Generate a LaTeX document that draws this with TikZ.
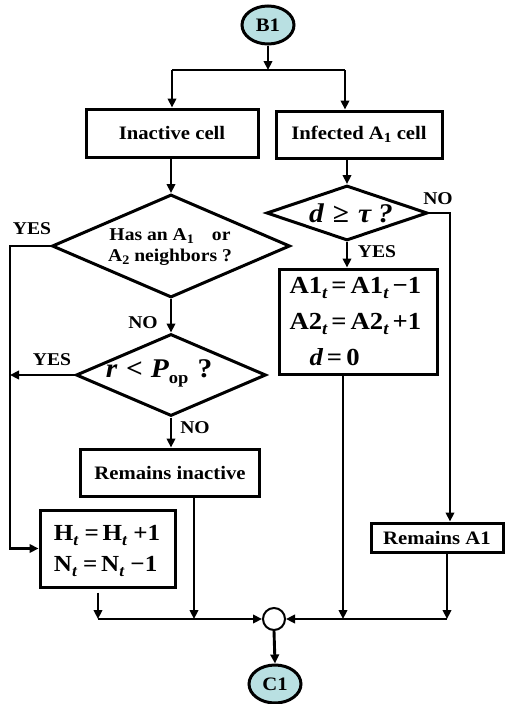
\documentclass[tikz,border=0pt]{standalone}
\usepackage{fontspec}
\setmainfont{Liberation Serif}[FakeStretch=1.09]
\usetikzlibrary{shapes.geometric,arrows.meta}
\definecolor{termfill}{RGB}{185,224,226}
\newcommand\lowsub[3]{\raisebox{-#1}{\fontsize{#2}{#2}\selectfont #3}}
\begin{document}
\begin{tikzpicture}[x=1pt,y=-1pt,
  every node/.style={font=\fontsize{19}{21}\selectfont\bfseries},
  ln/.style={line width=2.9pt},
  arr/.style={ln,-{Triangle[length=9pt,width=8.5pt]}},
  box/.style={draw,line width=3pt,rectangle,inner sep=0pt},
  dia/.style={draw,line width=3pt,diamond,inner sep=0pt},
  lbl/.style={font=\fontsize{18}{20}\selectfont\bfseries},
  term/.style={draw,line width=3pt,ellipse,fill=termfill,inner sep=0pt,minimum width=52pt,minimum height=38pt}]
\useasboundingbox (0,0) rectangle (509,704);
% nodes
\node[term] (B1) at (268,25) {B1};
\node[box,minimum width=172pt,minimum height=48pt] (inact) at (172,133) {Inactive cell};
\node[box,minimum width=166pt,minimum height=47pt] (infa) at (359,134.5) {Infected A\lowsub{3pt}{14}{1} cell};
\node[dia,minimum width=238pt,minimum height=103pt] (d1) at (171,246) {};
\node[align=center,font=\fontsize{18}{21}\selectfont\bfseries] (d1t) at (170,247) {Has an A\lowsub{3pt}{13}{1}\quad or\\A\lowsub{3pt}{13}{2} neighbors ?};
\node[dia,minimum width=161pt,minimum height=55pt] (d2) at (347,213) {};
\node[font=\fontsize{27}{30}\selectfont\bfseries] (d2t) at (351,213) {\itshape d\hspace{9pt}\upshape ≥\hspace{9pt}\itshape τ\hspace{7pt}?};
\node[box,minimum width=158pt,minimum height=105pt] (eq) at (358,321.5) {};
\node[align=left,font=\fontsize{24.5}{36}\selectfont\bfseries,anchor=west] (eqt) at (286,322) {A1\lowsub{5pt}{17}{\itshape t}\,=\,A1\lowsub{5pt}{17}{\itshape t}\,−1\\A2\lowsub{5pt}{17}{\itshape t}\,=\,A2\lowsub{5pt}{17}{\itshape t}\,+1\\\hspace*{20pt}\itshape d\upshape\,=\,0};
\node[dia,minimum width=190pt,minimum height=82pt] (d3) at (171,375) {};
\node[font=\fontsize{27}{30}\selectfont\bfseries] (d3t) at (159,373) {\itshape r\hspace{9pt}\upshape<\hspace{8pt}\itshape P\upshape\lowsub{6pt}{17}{op}\hspace{9pt}?};
\node[box,minimum width=179pt,minimum height=47pt] (rin) at (170,472.5) {Remains inactive};
\node[box,minimum width=135pt,minimum height=77pt] (hb) at (107.5,548.5) {};
\node[align=left,font=\fontsize{23}{31}\selectfont\bfseries] (hbt) at (107,551) {H\lowsub{5pt}{16}{\itshape t}\ =\,H\lowsub{5pt}{16}{\itshape t}\ +1\\N\lowsub{5pt}{16}{\itshape t}\ =\,N\lowsub{5pt}{16}{\itshape t}\ −1};
\node[box,minimum width=132pt,minimum height=29pt] (ra1) at (437,537.5) {Remains A1};
\node[circle,draw,line width=2pt,minimum size=22pt,inner sep=0pt] (mc) at (274,619) {};
\node[term] (C1) at (275,684) {C1};
% labels
\node[lbl] (l1) at (32,229) {YES};
\node[lbl] (l2) at (143,323) {NO};
\node[lbl] (l3) at (52,360) {YES};
\node[lbl] (l4) at (195,428) {NO};
\node[lbl] (l5) at (438,199) {NO};
\node[lbl] (l6) at (377,252) {YES};
% coordinates
\coordinate (j0) at (268,70);
\coordinate (jl) at (172,70);
\coordinate (jr) at (345,70);
\coordinate (yl1) at (10,246);
\coordinate (yl2) at (10,548.5);
\coordinate (nr) at (450,213);
\coordinate (b1) at (98,619);
\coordinate (b2) at (194,619);
\coordinate (b3) at (343,619);
\coordinate (b4) at (447,619);
% connectors
\draw[arr] (B1.south) -- (j0);
\draw[ln] (jl) -- (jr);
\draw[arr] (jl) -- (jl |- inact.north);
\draw[arr] (jr) -- (jr |- infa.north);
\draw[arr] (inact.south -| d1.north) -- (d1.north);
\draw[arr] (d2.north |- infa.south) -- (d2.north);
\draw[arr] (d1.west) -- (yl1) -- (yl2) -- (hb.west);
\draw[arr] (d1.south) -- (d3.north);
\draw[arr] (d3.west) -- (yl1 |- d3.west);
\draw[arr] (d3.south) -- (d3.south |- rin.north);
\draw[arr] (d2.south) -- (d2.south |- eq.north);
\draw[arr] (d2.east) -- (nr) -- (nr |- ra1.north);
\draw[arr,shorten <=4pt] (hb.south -| b1) -- (b1);
\draw[arr] (rin.south -| b2) -- (b2);
\draw[arr] (eq.south -| b3) -- (b3);
\draw[arr] (ra1.south -| b4) -- (b4);
\draw[arr] (b1) -- (mc.west);
\draw[arr] (b4) -- (mc.east);
\draw[arr] (mc.south) -- (C1.north);
\end{tikzpicture}
\end{document}
